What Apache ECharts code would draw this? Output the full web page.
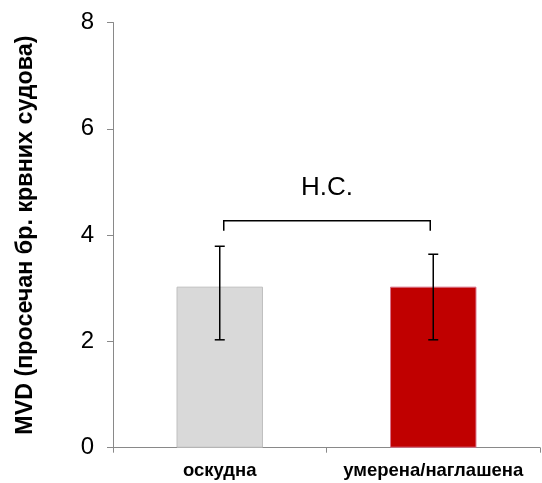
<!DOCTYPE html>
<html>
<head>
<meta charset="utf-8">
<script src="https://cdn.jsdelivr.net/npm/echarts@6/dist/echarts.min.js"></script>
<style>
  html, body { margin: 0; padding: 0; background: #fff; }
  #chart { width: 542px; height: 483px; }
</style>
</head>
<body>
<div id="chart"></div>
<script>
  // categories and values
  var categories = ['оскудна', 'умерена/наглашена'];
  var means = [3.03, 3.03];
  var errLow = [2.03, 2.03];
  var errHigh = [3.79, 3.64];
  var barColors = ['#d9d9d9', '#c00000'];
  var barBorders = ['#bfbfbf', '#d9738a'];
  var yTicks = [0, 2, 4, 6, 8];
  // significance bracket: from category 0 to 1, top / bottom values
  var bracket = [0, 1, 4.27, 4.08];
  var bracketLabel = 'Н.С.';
  var bracketLabelY = 4.88;

  var chart = echarts.init(document.getElementById('chart'));

  var barData = means.map(function (v, i) {
    return {
      value: v,
      itemStyle: { color: barColors[i], borderColor: barBorders[i], borderWidth: 1 }
    };
  });

  var errData = categories.map(function (c, i) {
    return [i, errLow[i], errHigh[i]];
  });

  var option = {
    animation: false,
    grid: { left: 113, right: 2, top: 22.5, bottom: 35.3 },
    xAxis: {
      type: 'category',
      data: categories,
      axisLine: { lineStyle: { color: '#898989', width: 1 } },
      axisTick: { show: true, alignWithLabel: false, length: 5, lineStyle: { color: '#898989' } },
      axisLabel: {
        interval: 0,
        hideOverlap: false,
        color: '#000', fontFamily: 'Liberation Sans, Arial', fontWeight: 'bold',
        fontSize: 18.5, margin: 14
      }
    },
    yAxis: {
      type: 'value',
      min: yTicks[0],
      max: yTicks[yTicks.length - 1],
      interval: 2,
      name: 'MVD (просечан бр. крвних судова)',
      nameLocation: 'middle',
      nameGap: 76,
      nameTextStyle: {
        color: '#000', fontFamily: 'Liberation Sans, Arial', fontWeight: 'bold', fontSize: 23.3
      },
      splitLine: { show: false },
      axisLine: { show: true, lineStyle: { color: '#898989', width: 1 } },
      axisTick: { show: true, length: 6, lineStyle: { color: '#898989' } },
      axisLabel: {
        color: '#000', fontFamily: 'Liberation Sans, Arial', fontSize: 24, margin: 19
      }
    },
    series: [
      {
        type: 'bar',
        data: barData,
        barWidth: '40.5%'
      },
      {
        type: 'custom',
        data: errData,
        z: 5,
        renderItem: function (params, api) {
          var x = api.value(0);
          var lo = api.coord([x, api.value(1)]);
          var hi = api.coord([x, api.value(2)]);
          var cap = 5;
          var st = { stroke: '#000', lineWidth: 1.5 };
          return {
            type: 'group',
            children: [
              { type: 'line', shape: { x1: lo[0], y1: lo[1], x2: hi[0], y2: hi[1] }, style: st },
              { type: 'line', shape: { x1: lo[0] - cap, y1: lo[1], x2: lo[0] + cap, y2: lo[1] }, style: st },
              { type: 'line', shape: { x1: hi[0] - cap, y1: hi[1], x2: hi[0] + cap, y2: hi[1] }, style: st }
            ]
          };
        }
      },
      {
        type: 'custom',
        data: [bracket],
        z: 5,
        renderItem: function (params, api) {
          var a = api.coord([api.value(0), api.value(2)]);
          var b = api.coord([api.value(1), api.value(2)]);
          var bottom = api.coord([api.value(0), api.value(3)])[1];
          var x1 = a[0] + 4, x2 = b[0] - 3;
          var t = api.coord([0.5, bracketLabelY]);
          return {
            type: 'group',
            children: [
              {
                type: 'polyline',
                shape: { points: [[x1, bottom], [x1, a[1]], [x2, a[1]], [x2, bottom]] },
                style: { stroke: '#000', lineWidth: 1.5, fill: null }
              },
              {
                type: 'text',
                x: (x1 + x2) / 2,
                y: t[1],
                style: {
                  text: bracketLabel, fill: '#000', fontSize: 26,
                  fontFamily: 'Liberation Sans, Arial', align: 'center', verticalAlign: 'middle'
                }
              }
            ]
          };
        }
      }
    ]
  };

  chart.setOption(option);
</script>
</body>
</html>
